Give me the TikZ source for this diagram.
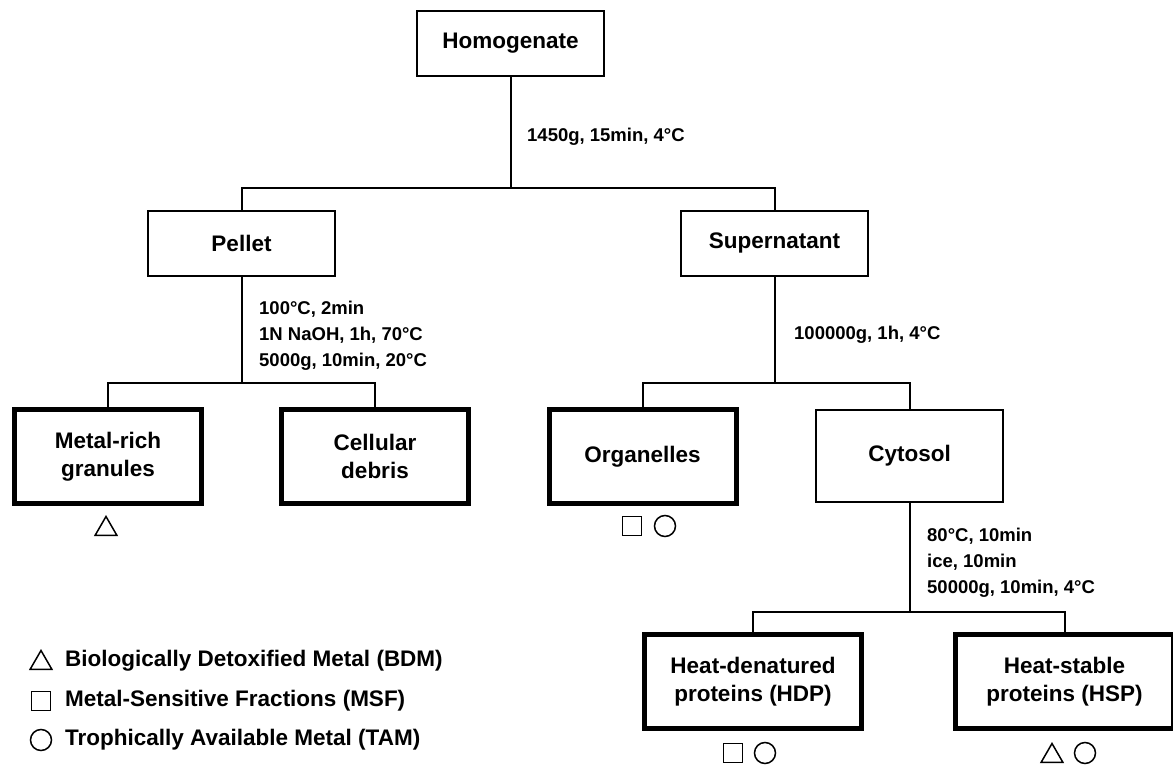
\documentclass[tikz,border=0pt]{standalone}
\usepackage{fontspec}
\setmainfont{Liberation Sans}
\usetikzlibrary{shapes.geometric}
\begin{document}
\begin{tikzpicture}[
    x=1pt, y=-1pt,
    stage/.style={draw, line width=2pt, minimum width=187pt, minimum height=65pt,
      inner sep=0pt, align=center, font=\fontsize{22.5}{28.5}\selectfont\bfseries},
    fraction/.style={stage, line width=5pt, minimum height=94pt},
    cond/.style={anchor=west, align=left, inner sep=0pt,
      font=\fontsize{18.5}{26}\selectfont\bfseries},
    legend/.style={anchor=west, inner sep=0pt, font=\fontsize{22.5}{27}\selectfont\bfseries},
    tri/.style={draw, line width=1.5pt, regular polygon, regular polygon sides=3,
      minimum size=25pt, inner sep=0pt},
    sq/.style={draw, line width=1.5pt, minimum size=19pt, inner sep=0pt},
    circ/.style={draw, line width=1.5pt, circle, minimum size=21pt, inner sep=0pt},
    link/.style={line width=2pt}
  ]
  \useasboundingbox (0,0) rectangle (1173,765);
  % fractions
  \node[stage] (homog) at (510.5,43.5) {Homogenate};
  \node[stage] (pellet) at (241.5,243) {Pellet};
  \node[stage] (super) at (774.5,243) {Supernatant};
  \node[fraction] (granules) at (108,456.5) {Metal-rich\\granules};
  \node[fraction] (debris) at (375,456.5) {Cellular\\debris};
  \node[fraction] (organ) at (642.5,456.5) {Organelles};
  \node[stage, minimum height=92pt] (cyto) at (909.5,456) {Cytosol};
  \node[fraction, minimum width=217pt] (hdp) at (753,681.5) {Heat-denatured\\proteins (HDP)};
  \node[fraction, minimum width=218pt] (hsp) at (1064.5,681.5) {Heat-stable\\proteins (HSP)};
  % conditions
  \node[cond] (c1) at (527,137) {1450g, 15min, 4°C};
  \node[cond] (c2) at (259,336) {100°C, 2min\\1N NaOH, 1h, 70°C\\5000g, 10min, 20°C};
  \node[cond] (c3) at (794,335) {100000g, 1h, 4°C};
  \node[cond] (c4) at (927,563) {80°C, 10min\\ice, 10min\\50000g, 10min, 4°C};
  % connectors
  \coordinate (j1) at (510.5,188);
  \coordinate (j2) at (241.5,383);
  \coordinate (j3) at (774.5,383);
  \coordinate (j4) at (909.5,612);
  \draw[link] (homog.south) -- (j1);
  \draw[link] (pellet.north) |- (j1) -| (super.north);
  \draw[link] (pellet.south) -- (j2);
  \draw[link] (granules.north) |- (j2) -| (debris.north);
  \draw[link] (super.south) -- (j3);
  \draw[link] (organ.north) |- (j3) -| (cyto.north);
  \draw[link] (cyto.south) -- (j4);
  \draw[link] (hdp.north) |- (j4) -| (hsp.north);
  % markers
  \node[tri] (m1) at (106,529) {};
  \node[sq] (m2) at (632,526) {};
  \node[circ] (m3) at (665,526) {};
  \node[sq] (m4) at (733,753) {};
  \node[circ] (m5) at (765,753) {};
  \node[tri] (m6) at (1052,756) {};
  \node[circ] (m7) at (1085,753) {};
  % legend
  \node[tri] (l1) at (41,663) {};
  \node[sq] (l2) at (41,701) {};
  \node[circ] (l3) at (41,740) {};
  \node[legend] (t1) at (65,661) {Biologically Detoxified Metal (BDM)};
  \node[legend] (t2) at (65,701) {Metal-Sensitive Fractions (MSF)};
  \node[legend] (t3) at (65,740) {Trophically Available Metal (TAM)};
\end{tikzpicture}
\end{document}
